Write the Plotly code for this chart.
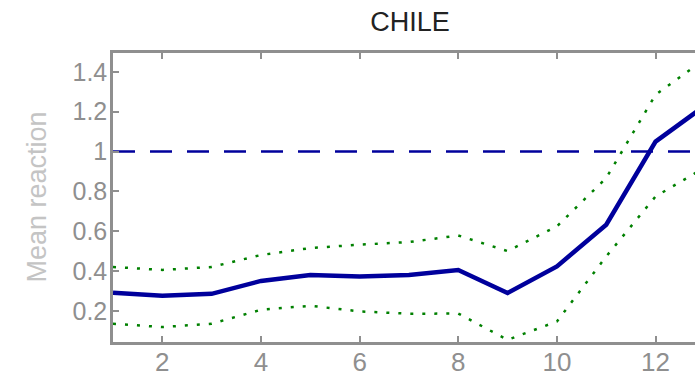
import plotly.graph_objects as go

horizon = [1, 2, 3, 4, 5, 6, 7, 8, 9, 10, 11, 12, 13]
mean_reaction = [0.29, 0.275, 0.285, 0.35, 0.38, 0.372, 0.38, 0.405, 0.289, 0.423, 0.632, 1.05, 1.23]
upper_band = [0.42, 0.405, 0.42, 0.48, 0.515, 0.532, 0.545, 0.578, 0.50, 0.624, 0.867, 1.285, 1.465]
lower_band = [0.135, 0.118, 0.135, 0.205, 0.225, 0.197, 0.185, 0.186, 0.054, 0.146, 0.473, 0.774, 0.92]
ref_x = [1, 13]
ref_y = [1, 1]
y_ticks = [0.2, 0.4, 0.6, 0.8, 1.0, 1.2, 1.4]
y_tick_labels = ["0.2", "0.4", "0.6", "0.8", "1", "1.2", "1.4"]
x_ticks = [2, 4, 6, 8, 10, 12]

FONT = "Liberation Sans, Arial, sans-serif"
AXIS = "#8f8f8f"

fig = go.Figure()
fig.add_trace(go.Scatter(x=ref_x, y=ref_y, mode="lines",
                         line=dict(color="#00009c", width=2.5, dash="22px,15px"), showlegend=False))
fig.add_trace(go.Scatter(x=horizon, y=upper_band, mode="lines",
                         line=dict(color="#008000", width=2.5, dash="3px,9px"), showlegend=False))
fig.add_trace(go.Scatter(x=horizon, y=lower_band, mode="lines",
                         line=dict(color="#008000", width=2.5, dash="3px,9px"), showlegend=False))
fig.add_trace(go.Scatter(x=horizon, y=mean_reaction, mode="lines",
                         line=dict(color="#00009c", width=4.5), showlegend=False))

fig.update_layout(
    width=695, height=384,
    margin=dict(l=113, r=0, t=53, b=42),
    paper_bgcolor="white", plot_bgcolor="white",
    font=dict(family=FONT, color=AXIS, size=26),
    title=dict(text="CHILE", x=410/695, xref="container", xanchor="center",
               y=1 - 22/384, yref="container", yanchor="middle",
               font=dict(family=FONT, size=27, color="#222222")),
    annotations=[dict(text="Mean reaction", xref="paper", yref="paper",
                      x=(36 - 113) / 582, y=0.5, xanchor="center", yanchor="middle",
                      textangle=-90, showarrow=False,
                      font=dict(family=FONT, size=27, color="#c4c4c4"))],
)
fig.update_xaxes(range=[1, 12.8], tickmode="array", tickvals=x_ticks,
                 showgrid=False, zeroline=False, showline=True, linecolor=AXIS, linewidth=2.5,
                 mirror="ticks", ticks="inside", ticklen=6, tickwidth=2, tickcolor=AXIS,
                 ticklabelstandoff=-5,
                 tickfont=dict(family=FONT, size=26, color=AXIS))
fig.update_yaxes(range=[0.043, 1.495], tickmode="array", tickvals=y_ticks, ticktext=y_tick_labels,
                 showgrid=False, zeroline=False, showline=True, linecolor=AXIS, linewidth=2.5,
                 mirror=False, ticks="inside", ticklen=6, tickwidth=2, tickcolor=AXIS,
                 ticklabelstandoff=-2,
                 tickfont=dict(family=FONT, size=25, color=AXIS))

fig.write_html("out.html", config={"displayModeBar": False},
               post_script="document.body.style.margin='0';document.body.style.overflow='hidden';")
